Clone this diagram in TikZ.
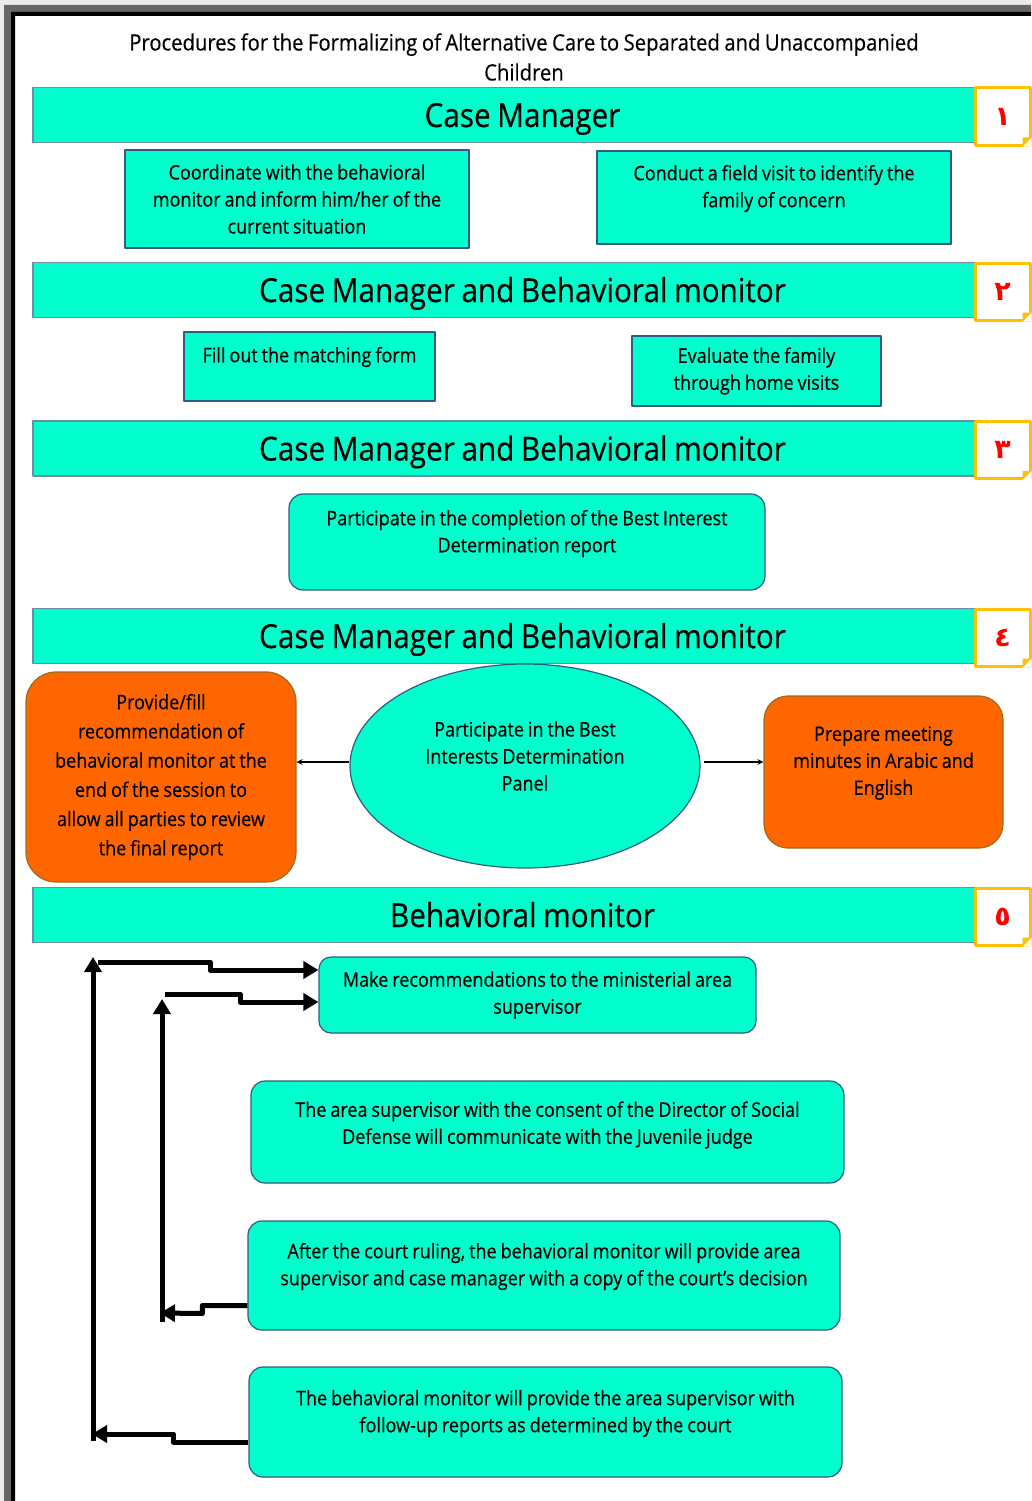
\documentclass[tikz,border=0pt]{standalone}
\usepackage{fontspec}
\setmainfont{Open Sans}[FakeStretch=0.9,WordSpace=0.85,FakeBold=0.4]
\newfontfamily\numfont[Script=Arabic]{DejaVu Sans}
\usetikzlibrary{arrows.meta,shapes.geometric}
\definecolor{aqua}{RGB}{0,255,204}
\definecolor{boxline}{RGB}{50,90,130}
\definecolor{barline}{RGB}{110,140,170}
\definecolor{orng}{RGB}{255,102,0}
\definecolor{orngline}{RGB}{150,110,30}
\definecolor{numline}{RGB}{255,192,0}
\newcommand{\boxfont}{\fontsize{20}{27}\selectfont}
\tikzset{
	bar/.style={draw=barline,fill=aqua,line width=1.2pt,minimum width=979pt,minimum height=55pt,inner sep=0pt,
		text height=24pt,text depth=0pt,font=\fontsize{33}{40}\selectfont},
	numbox/.style={draw=numline,fill=white,line width=3pt,minimum width=55pt,minimum height=57pt,inner sep=0pt,text=red,font=\numfont\bfseries\fontsize{27}{30}\selectfont},
	sqbox/.style={draw=boxline,fill=aqua,line width=1.2pt,inner sep=0pt,align=center,font=\boxfont},
	rbox/.style={sqbox,rounded corners=14pt},
	obox/.style={draw=orngline,fill=orng,line width=1.2pt,rounded corners=30pt,inner sep=0pt,align=center,font=\boxfont},
	txt/.style={text width=#1,align=flush center,font=\boxfont,inner sep=0pt},
	bigarrow/.style={line width=5pt,-{Triangle[length=15pt,width=17pt]}},
}
\begin{document}
\begin{tikzpicture}[x=1pt,y=-1pt,line join=round,>=stealth]
	\useasboundingbox (0,0) rectangle (1031,1501);
	% frame
	\fill[black!8] (0,0) rectangle (1031,5) (0,0) rectangle (4,1501);
	\fill[black!60] (4,5) rectangle (1031,12) (4,5) rectangle (11,1501);
	\fill[black] (11,12) rectangle (1031,16) (11,12) rectangle (15,1501);
	\node[font=\fontsize{22.5}{30}\selectfont,align=center] (title) at (524,57)
		{Procedures for the Formalizing of Alternative Care to Separated and Unaccompanied\\Children};
	% bars with numbers
	\foreach \n/\y/\t/\d in {1/115/Case Manager/١,2/290/Case Manager and Behavioral monitor/٢,
		3/448.5/Case Manager and Behavioral monitor/٣,4/636/Case Manager and Behavioral monitor/٤,
		5/915/Behavioral monitor/٥}
	{
		\node[bar] (bar\n) at (522.5,\y) {\t};
		\node[numbox] (num\n) at (1002.5,\y+1.5) {\d};
		\fill[white] ([xshift=-9pt]num\n.south east) -- (num\n.south east) -- ([yshift=9pt]num\n.south east) -- cycle;
		\fill[numline] ([xshift=-9pt]num\n.south east) -- ([yshift=9pt]num\n.south east) -- ([xshift=-9pt,yshift=9pt]num\n.south east) -- cycle;
	}
	% step 1
	\node[sqbox,minimum width=344pt,minimum height=98pt] (coord) at (297,199)
		{Coordinate with the behavioral\\monitor and inform him/her of the\\current situation};
	\node[sqbox,minimum width=354pt,minimum height=93pt,
		label={[txt=340pt,yshift=9pt]center:{Conduct a field visit to identify the\\family of concern}}] (visit) at (774,197.5) {};
	% step 2
	\node[sqbox,minimum width=251pt,minimum height=69pt,
		label={[txt=240pt,yshift=9.5pt]center:Fill out the matching form}] (form) at (309.5,366.5) {};
	\node[sqbox,minimum width=249pt,minimum height=70pt] (evaluate) at (756.5,371)
		{Evaluate the family\\through home visits};
	% step 3
	\node[rbox,minimum width=476pt,minimum height=96pt,
		label={[txt=460pt,yshift=8.5pt]center:{Participate in the completion of the Best Interest\\Determination report}}] (report) at (527,542) {};
	% step 4
	\node[obox,minimum width=270pt,minimum height=210pt,font=\fontsize{20}{29.2}\selectfont] (provide) at (161,777)
		{Provide/fill\\recommendation of\\behavioral monitor at the\\end of the session to\\allow all parties to review\\the final report};
	\node[ellipse,draw=boxline,fill=aqua,line width=1.2pt,minimum width=350pt,minimum height=204pt,inner sep=0pt,
		label={[txt=300pt,yshift=10pt]center:{Participate in the Best\\Interests Determination\\Panel}}] (panel) at (525,766) {};
	\node[obox,rounded corners=24pt,minimum width=239pt,minimum height=152pt,
		label={[txt=230pt,yshift=9pt]center:{Prepare meeting\\minutes in Arabic and\\English}}] (minutes) at (883.5,772) {};
	\draw[->,line width=1.6pt] ([yshift=4pt]panel.west) -- ([yshift=15pt]provide.east);
	\draw[->,line width=1.6pt] ([xshift=3pt,yshift=4pt]panel.east) -- ([yshift=10pt]minutes.west);
	% step 5
	\node[rbox,rounded corners=12pt,minimum width=437pt,minimum height=76pt] (recommend) at (537.5,995)
		{Make recommendations to the ministerial area\\supervisor};
	\node[rbox,minimum width=593pt,minimum height=102pt,
		label={[txt=580pt,yshift=7pt]center:{The area supervisor with the consent of the Director of Social\\Defense will communicate with the Juvenile judge}}] (judge) at (547.5,1132) {};
	\node[rbox,minimum width=592pt,minimum height=109pt,
		label={[txt=580pt,yshift=9pt]center:{After the court ruling, the behavioral monitor will provide area\\supervisor and case manager with a copy of the court’s decision}}] (ruling) at (544,1275.5) {};
	\node[rbox,minimum width=593pt,minimum height=110pt,
		label={[txt=580pt,yshift=8.5pt]center:{The behavioral monitor will provide the area supervisor with\\follow-up reports as determined by the court}}] (followup) at (545.5,1422) {};
	% feedback loops
	\coordinate (outer bottom) at (93,1441);
	\coordinate (outer top) at (93,957);
	\coordinate (inner bottom) at (162,1322);
	\coordinate (inner top) at (162,999);
	\draw[bigarrow] ([yshift=-20pt]followup.west) -- ++(-75,0) -- ++(0,-8) -- (92,1434);
	\draw[bigarrow] (outer bottom) -- (outer top);
	\draw[bigarrow] (98,962) -- (210,962) -- (210,970) -- ([yshift=25pt]recommend.west);
	\draw[bigarrow] ([yshift=-30pt]ruling.west) -- ++(-45,0) -- ++(0,8) -- (160,1313);
	\draw[bigarrow] (inner bottom) -- (inner top);
	\draw[bigarrow] (165,994) -- (240,994) -- (240,1002) -- ([yshift=-7pt]recommend.west);
\end{tikzpicture}
\end{document}
